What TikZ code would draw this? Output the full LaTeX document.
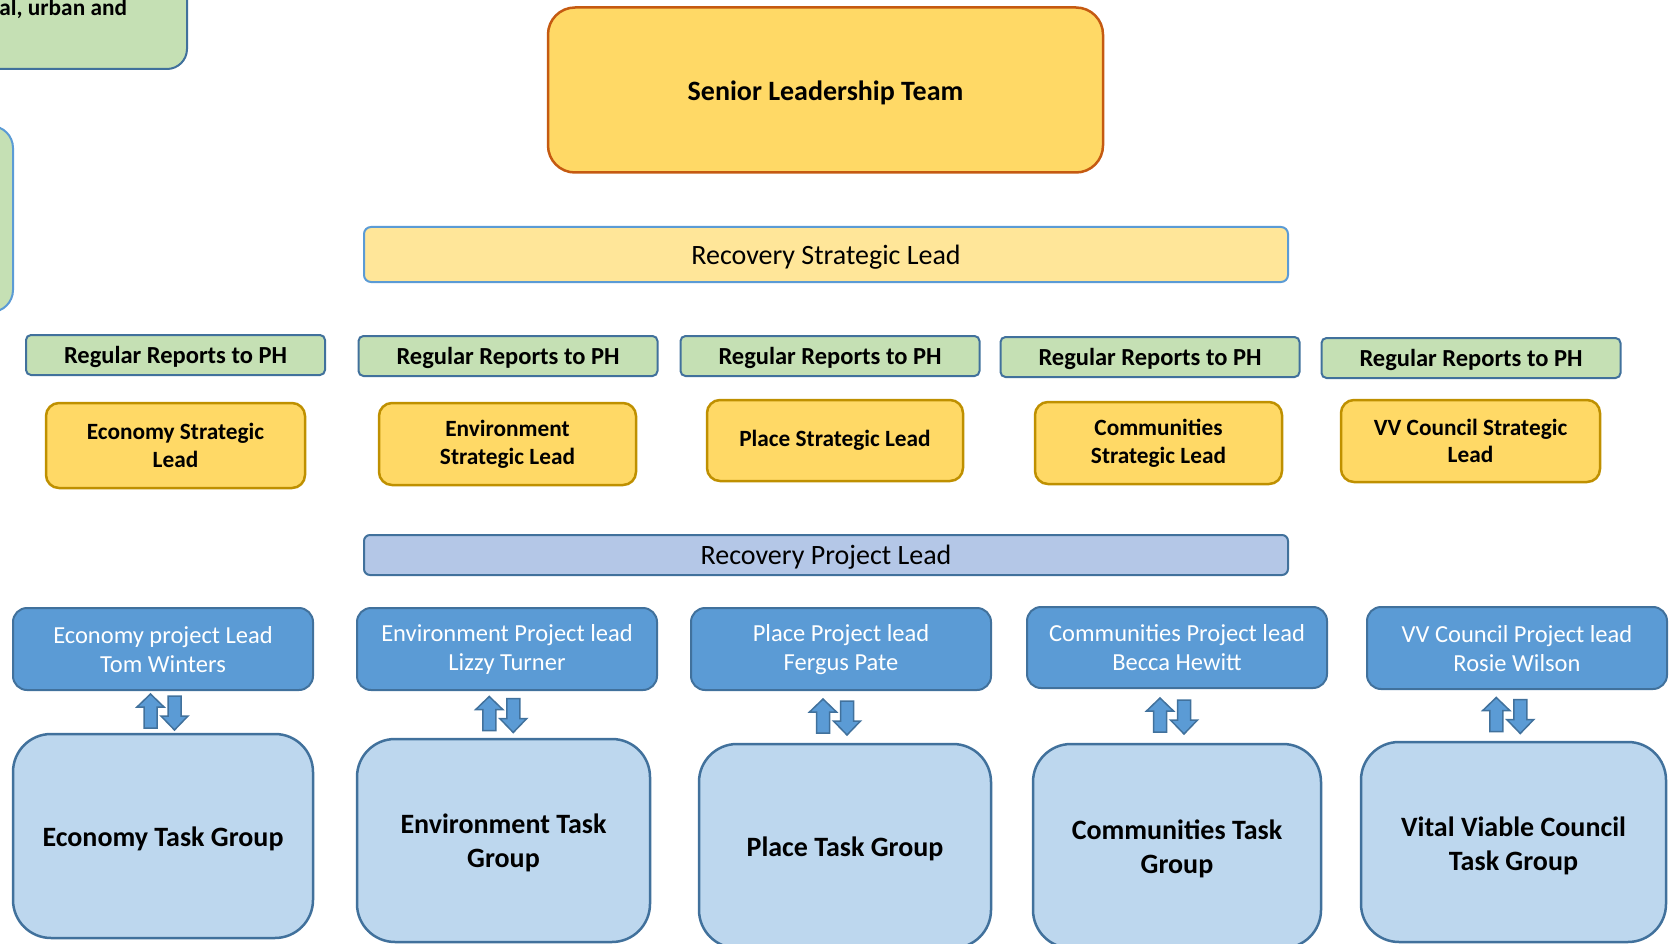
\documentclass[tikz,border=0pt]{standalone}
\usepackage{fontspec}
\setmainfont{Carlito}
\usetikzlibrary{calc}

\definecolor{gold}{HTML}{FFD966}
\definecolor{goldline}{HTML}{BF9000}
\definecolor{orangeline}{HTML}{C55A11}
\definecolor{paleyellow}{HTML}{FFE699}
\definecolor{palegreen}{HTML}{C5E0B4}
\definecolor{midblue}{HTML}{5B9BD5}
\definecolor{darkblue}{HTML}{41719C}
\definecolor{lavender}{HTML}{B4C7E7}
\definecolor{skyblue}{HTML}{BDD7EE}

\begin{document}
\begin{tikzpicture}[x=1pt,y=-1pt,
  box/.style={inner sep=0pt, outer sep=0pt, align=center},
  % text styles (set as centred labels so the text sits a little low, as Calibri does)
  bigbold/.style={box, font=\fontsize{28}{34}\selectfont\bfseries},
  bigreg/.style={box, font=\fontsize{28}{34}\selectfont},
  midbold/.style={box, font=\fontsize{24.5}{30}\selectfont\bfseries},
  midreg/.style={box, font=\fontsize{24.5}{29}\selectfont, text=white},
  smallbold/.style={box, font=\fontsize{23.3}{27.7}\selectfont\bfseries},
  % shapes
  sltbox/.style={box, fill=gold, draw=orangeline, line width=2.5pt, rounded corners=27pt},
  leadbar/.style={box, line width=2pt, rounded corners=7pt},
  reportbox/.style={box, fill=palegreen, draw=darkblue, line width=2pt, rounded corners=5pt,
    minimum width=299pt, minimum height=40pt},
  stratbox/.style={box, fill=gold, draw=goldline, line width=2.5pt, rounded corners=13pt},
  projbox/.style={box, fill=midblue, draw=darkblue, line width=2pt, rounded corners=14pt,
    minimum width=300pt, minimum height=82pt},
  taskbox/.style={box, fill=skyblue, draw=darkblue, line width=2.5pt, rounded corners=38pt},
  arrowst/.style={fill=midblue, draw=darkblue, line width=1.5pt, line join=miter},
  updown/.pic={
    % upward block arrow on the left, downward one on the right
    \draw[arrowst] (-18.5,16) -- (-18.5,-5) -- (-25.5,-5) -- (-12,-18) -- (1.5,-5)
      -- (-5.5,-5) -- (-5.5,16) -- cycle;
    \draw[arrowst] (5.5,-16) -- (5.5,4) -- (-1.5,4) -- (12,18) -- (25.5,4)
      -- (18.5,4) -- (18.5,-16) -- cycle;
  }
]
\useasboundingbox (0,0) rectangle (1673,944);
\clip (0,0) rectangle (1673,944);

% boxes running in from the left edge
\node[box, fill=palegreen, draw=darkblue, line width=2pt, rounded corners=20pt,
  minimum width=487pt, minimum height=169pt] (ctxA) at (-56.5,-15.5) {};
\node[smallbold, anchor=base east] (ctxAtext) at (127,16) {al, urban and};
\node[box, fill=palegreen, draw=midblue, line width=2pt, rounded corners=22pt,
  minimum width=213pt, minimum height=186pt] (ctxB) at (-93.5,219) {};

% top of the structure
\node[sltbox, minimum width=555pt, minimum height=165pt,
  label={[bigbold, yshift=-3pt, name=sltT]center:Senior Leadership Team}] (slt) at (825.5,90) {};
\node[leadbar, fill=paleyellow, draw=midblue, minimum width=924pt, minimum height=55pt,
  label={[bigreg, yshift=-3pt, name=rslT]center:Recovery Strategic Lead}] (rsl) at (826,254.5) {};

% reporting line per theme
\foreach \n/\x/\y in {1/175.5/355, 2/508/356, 3/830/356, 4/1150/357, 5/1471/358}
  \node[reportbox, label={[midbold, yshift=-2pt, name=rep\n T]center:Regular Reports to PH}]
    (rep\n) at (\x,\y) {};

% strategic leads
\tikzset{stratt/.style={smallbold}}
\node[stratbox, minimum width=259pt, minimum height=85pt,
  label={[stratt, name=s1T]center:Economy Strategic\\Lead}] (s1) at (175.5,445.5) {};
\node[stratbox, minimum width=257pt, minimum height=82pt,
  label={[stratt, name=s2T]center:Environment\\Strategic Lead}] (s2) at (507.5,444) {};
\node[stratbox, minimum width=256pt, minimum height=81pt,
  label={[stratt, name=s3T]center:Place Strategic Lead}] (s3) at (835,440.5) {};
\node[stratbox, minimum width=247pt, minimum height=82pt,
  label={[stratt, name=s4T]center:Communities\\Strategic Lead}] (s4) at (1158.5,443) {};
\node[stratbox, minimum width=259pt, minimum height=82pt,
  label={[stratt, name=s5T]center:VV Council Strategic\\Lead}] (s5) at (1470.5,441) {};

\node[leadbar, fill=lavender, draw=darkblue, minimum width=924pt, minimum height=40pt, rounded corners=6pt,
  label={[bigreg, yshift=-2pt, name=rplT]center:Recovery Project Lead}] (rpl) at (826,555) {};

% project leads
\tikzset{projt/.style={midreg, yshift=-0.5pt}}
\node[projbox, label={[projt, name=p1T]center:Economy project Lead\\Tom Winters}] (p1) at (163,649) {};
\node[projbox, label={[projt, name=p2T]center:Environment Project lead\\Lizzy Turner}] (p2) at (507,649) {};
\node[projbox, label={[projt, name=p3T]center:Place Project lead\\Fergus Pate}] (p3) at (841,649) {};
\node[projbox, minimum height=81pt,
  label={[projt, name=p4T]center:Communities Project lead\\Becca Hewitt}] (p4) at (1177,647.5) {};
\node[projbox, label={[projt, name=p5T]center:VV Council Project lead\\Rosie Wilson}] (p5) at (1517,648) {};

% task groups
\tikzset{taskt/.style={bigbold, yshift=-2.5pt}}
\node[taskbox, minimum width=300pt, minimum height=204pt,
  label={[taskt, name=t1T]center:Economy Task Group}] (t1) at (163,836) {};
\node[taskbox, minimum width=293pt, minimum height=203pt,
  label={[taskt, name=t2T]center:Environment Task\\Group}] (t2) at (503.5,840.5) {};
\node[taskbox, minimum width=292pt, minimum height=204pt,
  label={[taskt, name=t3T]center:Place Task Group}] (t3) at (845,846) {};
\node[taskbox, minimum width=288pt, minimum height=204pt,
  label={[taskt, name=t4T]center:Communities Task\\Group}] (t4) at (1177,846) {};
\node[taskbox, minimum width=305pt, minimum height=200pt,
  label={[taskt, yshift=-1pt, name=t5T]center:Vital Viable Council\\Task Group}] (t5) at (1513.5,842) {};

% two-way exchange between each project lead and its task group
\pic at ($(p1.south)!0.5!(t1.north) + (-0.5,0)$) {updown};
\pic at ($(p2.south)!0.5!(t2.north) + (-4,0)$) {updown};
\pic at ($(p3.south)!0.5!(t3.north) + (-8,0)$) {updown};
\pic at ($(p4.south)!0.5!(t4.north) + (-5,0)$) {updown};
\pic at ($(p5.south)!0.5!(t5.north) + (-7,0)$) {updown};
\end{tikzpicture}
\end{document}
